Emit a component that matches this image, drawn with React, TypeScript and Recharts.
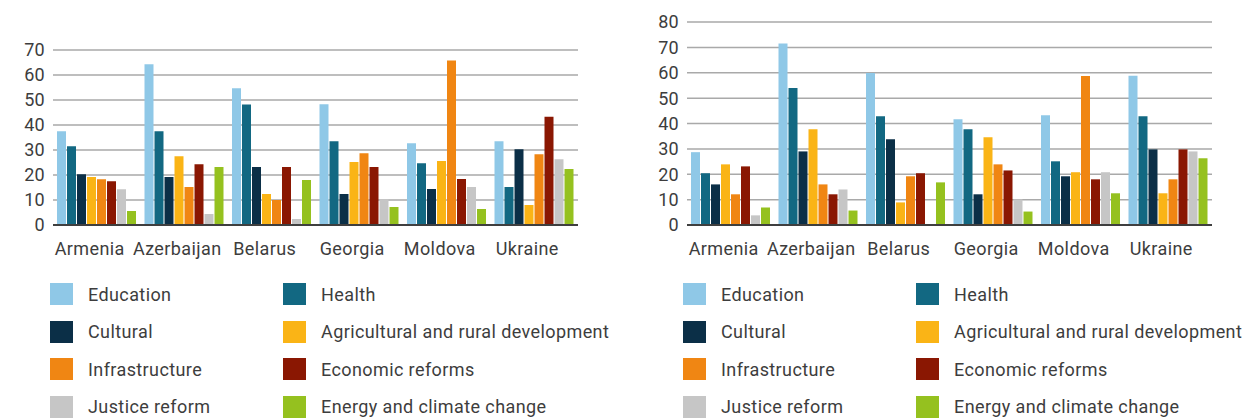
import React from 'react';
import { BarChart, Bar, XAxis, YAxis, CartesianGrid } from 'recharts';

const countries = ['Armenia', 'Azerbaijan', 'Belarus', 'Georgia', 'Moldova', 'Ukraine'];

const seriesNames = [
  'Education',
  'Health',
  'Cultural',
  'Agricultural and rural development',
  'Infrastructure',
  'Economic reforms',
  'Justice reform',
  'Energy and climate change',
];

const palette = ['#8FC8E7', '#126882', '#0B2F47', '#FAB416', '#F08613', '#8A1702', '#C6C6C6', '#95C11F'];

// Left chart values
const leftEducation = [37.5, 64.3, 54.7, 48.3, 32.7, 33.5];
const leftHealth = [31.5, 37.5, 48.2, 33.5, 24.7, 15.2];
const leftCultural = [20.3, 19.2, 23.2, 12.4, 14.4, 30.3];
const leftAgricultural = [19.2, 27.5, 12.4, 25.2, 25.6, 8];
const leftInfrastructure = [18.3, 15.2, 10, 28.7, 65.8, 28.3];
const leftEconomic = [17.5, 24.3, 23.2, 23.2, 18.4, 43.3];
const leftJustice = [14.3, 4.4, 2.4, 10.3, 15.2, 26.3];
const leftEnergy = [5.6, 23.2, 18, 7.2, 6.4, 22.4];

// Right chart values
const rightEducation = [28.7, 71.5, 59.9, 41.7, 43.3, 58.8];
const rightHealth = [20.4, 54, 42.9, 37.7, 25.1, 42.9];
const rightCultural = [16, 29, 33.8, 12.1, 19.2, 29.8];
const rightAgricultural = [23.9, 37.7, 8.9, 34.6, 20.8, 12.5];
const rightInfrastructure = [12.1, 16, 19.2, 23.9, 58.7, 18];
const rightEconomic = [23.1, 12.1, 20.4, 21.5, 18, 29.8];
const rightJustice = [3.8, 14, 0, 10.1, 20.8, 29];
const rightEnergy = [6.9, 5.7, 16.8, 5.3, 12.5, 26.3];

const leftTicks = [0, 10, 20, 30, 40, 50, 60, 70];
const rightTicks = [0, 10, 20, 30, 40, 50, 60, 70, 80];

const leftSeries = [leftEducation, leftHealth, leftCultural, leftAgricultural, leftInfrastructure, leftEconomic, leftJustice, leftEnergy];
const rightSeries = [rightEducation, rightHealth, rightCultural, rightAgricultural, rightInfrastructure, rightEconomic, rightJustice, rightEnergy];

const buildRows = (series: number[][]) =>
  countries.map((c, i) => {
    const row: Record<string, string | number> = { country: c };
    seriesNames.forEach((n, s) => {
      row['s' + s] = series[s][i];
    });
    return row;
  });

const leftData = buildRows(leftSeries);
const rightData = buildRows(rightSeries);

const textColor = '#3d3d3d';
const fontFamily = 'Roboto, "Noto Sans", sans-serif';

function Panel({ data, ticks, width, top, right }: { data: any[]; ticks: number[]; width: number; top: number; right: number }) {
  return (
    <BarChart
      width={width}
      height={270}
      data={data}
      margin={{ top, right, left: 8, bottom: 5 }}
      barGap={1}
      barCategoryGap={4}
    >
      <CartesianGrid vertical={false} stroke="#a9a9a9" strokeWidth={1.5} />
      <XAxis
        dataKey="country"
        height={40}
        tickLine={false}
        axisLine={{ stroke: '#3f3f3f', strokeWidth: 2 }}
        tickMargin={11}
        interval={0}
        dx={-7}
        tick={{ fill: textColor, fontSize: 18, fontFamily, letterSpacing: 0.4 }}
      />
      <YAxis
        width={45}
        domain={[0, ticks[ticks.length - 1]]}
        ticks={ticks}
        interval={0}
        axisLine={false}
        tickLine={false}
        tick={{ fill: textColor, fontSize: 18, fontFamily, letterSpacing: 0.3 }}
      />
      {seriesNames.map((n, s) => (
        <Bar key={n} dataKey={'s' + s} name={n} fill={palette[s]} isAnimationActive={false} />
      ))}
    </BarChart>
  );
}

function LegendBlock({ left, col2 }: { left: number; col2: number }) {
  return (
    <>
      {seriesNames.map((n, s) => {
        const col = s % 2;
        const row = Math.floor(s / 2);
        const x = col === 0 ? left : left + col2;
        const y = 283 + row * 37.6;
        return (
          <div key={n} style={{ position: 'absolute', left: x, top: y, height: 22, display: 'flex', alignItems: 'center', whiteSpace: 'nowrap' }}>
            <div style={{ width: 23, height: 22, background: palette[s] }} />
            <span style={{ marginLeft: 15, fontSize: 18, letterSpacing: 0.4, color: textColor, fontFamily }}>{n}</span>
          </div>
        );
      })}
    </>
  );
}

export default function App() {
  return (
    <div style={{ position: 'absolute', left: 0, top: 0, width: 1242, height: 419, background: '#fff', overflow: 'hidden', fontFamily }}>
      <div style={{ position: 'absolute', left: 0, top: 0 }}>
        <Panel data={leftData} ticks={leftTicks} width={620} top={50} right={42} />
      </div>
      <div style={{ position: 'absolute', left: 634, top: 0 }}>
        <Panel data={rightData} ticks={rightTicks} width={608} top={22} right={30} />
      </div>
      <LegendBlock left={50} col2={233} />
      <LegendBlock left={683} col2={233} />
    </div>
  );
}
